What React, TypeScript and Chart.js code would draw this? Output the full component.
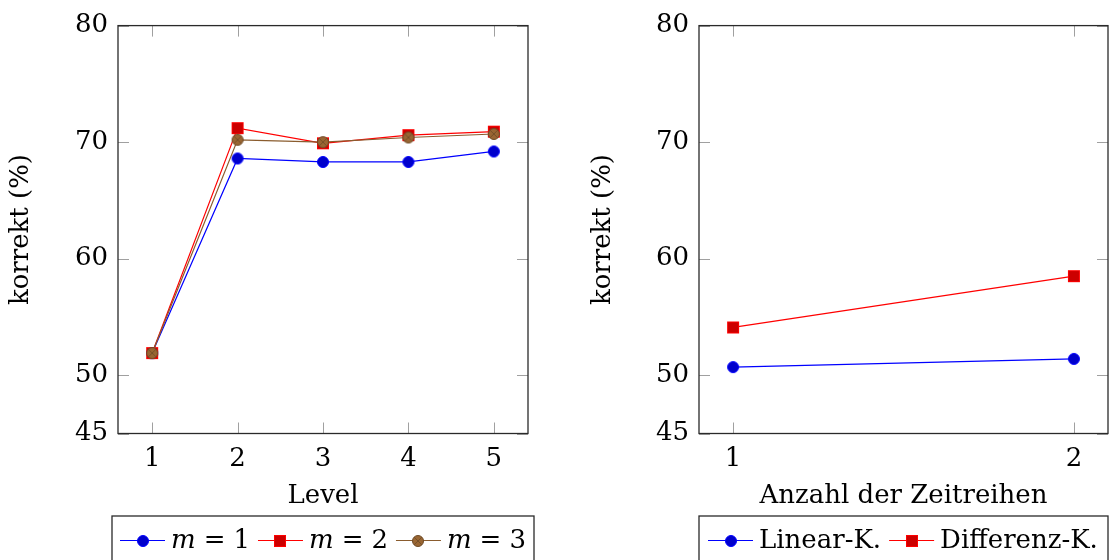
import { useEffect, useRef } from "react";
import { Chart, registerables } from "chart.js";

Chart.register(...registerables);

// Left panel: accuracy per level for three values of m
const levels = [1, 2, 3, 4, 5];
const m1Values = [51.9, 68.6, 68.3, 68.3, 69.2];
const m2Values = [51.9, 71.2, 69.9, 70.6, 70.9];
const m3Values = [51.9, 70.2, 70.0, 70.4, 70.7];

// Right panel: accuracy per number of time series
const seriesCounts = [1, 2];
const linearValues = [50.7, 51.4];
const differenzValues = [54.1, 58.5];

const yTickValues = [45, 50, 60, 70, 80];
const levelTicks = [1, 2, 3, 4, 5];
const countTicks = [1, 2];

const FONT = "DejaVu Serif";
const FONT_SIZE = 26;
const TICK_LEN = 11;

// ---- marker images (circle, square, circled cross) ----
function makeMarker(draw: (c: CanvasRenderingContext2D) => void): HTMLCanvasElement {
  const cv = document.createElement("canvas");
  cv.width = 14;
  cv.height = 14;
  const c = cv.getContext("2d")!;
  draw(c);
  return cv;
}

const blueDot = makeMarker((c) => {
  c.beginPath();
  c.arc(7, 7, 5.5, 0, Math.PI * 2);
  c.fillStyle = "#0000cc";
  c.fill();
  c.strokeStyle = "#0000ff";
  c.lineWidth = 1;
  c.stroke();
});

const redSquare = makeMarker((c) => {
  c.fillStyle = "#cc0000";
  c.fillRect(1.5, 1.5, 11, 11);
  c.strokeStyle = "#ff0000";
  c.lineWidth = 1;
  c.strokeRect(1.5, 1.5, 11, 11);
});

const brownOtimes = makeMarker((c) => {
  c.beginPath();
  c.arc(7, 7, 5.5, 0, Math.PI * 2);
  c.fillStyle = "#996633";
  c.fill();
  c.strokeStyle = "#6e4a26";
  c.lineWidth = 1;
  c.stroke();
  const d = 5.5 * Math.SQRT1_2;
  c.beginPath();
  c.moveTo(7 - d, 7 - d);
  c.lineTo(7 + d, 7 + d);
  c.moveTo(7 + d, 7 - d);
  c.lineTo(7 - d, 7 + d);
  c.lineWidth = 0.8;
  c.stroke();
});

// ---- plugins ----
const framePlugin = {
  id: "frame",
  beforeDatasetsDraw(chart: any, _args: any, opts: any) {
    const { ctx, chartArea, scales } = chart;
    const { left, right, top, bottom } = chartArea;
    ctx.save();
    ctx.strokeStyle = "#a0a0a0";
    ctx.lineWidth = 1;
    ctx.beginPath();
    for (const v of opts.yTicks as number[]) {
      const py = Math.round(scales.y.getPixelForValue(v)) + 0.5;
      ctx.moveTo(left, py);
      ctx.lineTo(left + TICK_LEN, py);
      ctx.moveTo(right - TICK_LEN, py);
      ctx.lineTo(right, py);
    }
    for (const v of opts.xTicks as number[]) {
      const px = Math.round(scales.x.getPixelForValue(v)) + 0.5;
      ctx.moveTo(px, bottom);
      ctx.lineTo(px, bottom - TICK_LEN);
      ctx.moveTo(px, top);
      ctx.lineTo(px, top + TICK_LEN);
    }
    ctx.stroke();
    ctx.strokeStyle = "#2a2a2a";
    ctx.lineWidth = 1.3;
    ctx.strokeRect(left, top, right - left, bottom - top);
    ctx.restore();
  },
};

type Part = { text: string; italic?: boolean; gapAfter?: number };
type LegendItem = { color: string; marker: HTMLCanvasElement; parts: Part[] };

const boxLegendPlugin = {
  id: "boxLegend",
  afterDraw(chart: any, _args: any, opts: any) {
    const { ctx } = chart;
    const { boxLeft, boxRight, boxTop, startX, markerY, textY } = opts;
    const items: LegendItem[] = opts.items;
    ctx.save();
    ctx.strokeStyle = "#2a2a2a";
    ctx.lineWidth = 1.3;
    ctx.strokeRect(boxLeft, boxTop, boxRight - boxLeft, 120);
    let x = startX;
    for (const it of items) {
      ctx.strokeStyle = it.color;
      ctx.lineWidth = 1.2;
      ctx.beginPath();
      ctx.moveTo(x, markerY + 0.5);
      ctx.lineTo(x + 45, markerY + 0.5);
      ctx.stroke();
      ctx.drawImage(it.marker, Math.round(x + 22.5 - 7), Math.round(markerY - 7 + 0.5));
      x += 45 + 6;
      ctx.fillStyle = "#000";
      ctx.textBaseline = "alphabetic";
      ctx.textAlign = "left";
      for (const p of it.parts) {
        ctx.font = `${p.italic ? "italic " : ""}${FONT_SIZE}px "${FONT}"`;
        ctx.fillText(p.text, x, textY);
        x += ctx.measureText(p.text).width + (p.gapAfter ?? 0);
      }
      x += 8;
    }
    ctx.restore();
  },
};

function baseOptions(opts: {
  xMin: number;
  xMax: number;
  xTicks: number[];
  xTitle: string;
  yAxisWidth: number;
  padLeft: number;
  padRight: number;
  legend: any;
}) {
  const font = { family: FONT, size: FONT_SIZE };
  const grid = { display: false, drawTicks: false, tickLength: 0 };
  return {
    responsive: false,
    animation: false as const,
    layout: { padding: { left: opts.padLeft, right: opts.padRight, top: 24, bottom: 46 } },
    plugins: {
      legend: { display: false },
      tooltip: { enabled: false },
      frame: { xTicks: opts.xTicks, yTicks: yTickValues },
      boxLegend: opts.legend,
    },
    scales: {
      x: {
        type: "linear" as const,
        min: opts.xMin,
        max: opts.xMax,
        grid,
        border: { display: false },
        afterBuildTicks: (s: any) => {
          s.ticks = opts.xTicks.map((v) => ({ value: v }));
        },
        afterFit: (s: any) => {
          s.height = 80.5;
        },
        ticks: { color: "#000", font, padding: 10, maxRotation: 0 },
        title: { display: true, text: opts.xTitle, color: "#000", font, padding: { top: 0, bottom: 2 } },
      },
      y: {
        type: "linear" as const,
        min: 45,
        max: 80,
        grid,
        border: { display: false },
        afterBuildTicks: (s: any) => {
          s.ticks = yTickValues.map((v) => ({ value: v }));
        },
        afterFit: (s: any) => {
          s.width = opts.yAxisWidth;
        },
        ticks: { color: "#000", font, padding: 10 },
        title: { display: true, text: "korrekt (%)", color: "#000", font, padding: { top: 6, bottom: 0 } },
      },
    },
  };
}

function toPoints(xs: number[], ys: number[]) {
  return xs.map((x, i) => ({ x, y: ys[i] }));
}

function lineDataset(label: string, xs: number[], ys: number[], color: string, marker: HTMLCanvasElement, order: number) {
  return {
    label,
    data: toPoints(xs, ys),
    borderColor: color,
    borderWidth: 1.2,
    backgroundColor: color,
    pointStyle: marker,
    pointRadius: 6,
    pointHoverRadius: 6,
    tension: 0,
    order,
  };
}

function LevelChart() {
  const ref = useRef<HTMLCanvasElement>(null);
  useEffect(() => {
    const chart = new Chart(ref.current!, {
      type: "line",
      data: {
        datasets: [
          lineDataset("m = 1", levels, m1Values, "#0000ff", blueDot, 2),
          lineDataset("m = 2", levels, m2Values, "#ff0000", redSquare, 1),
          lineDataset("m = 3", levels, m3Values, "#8a5c2e", brownOtimes, 0),
        ],
      },
      options: baseOptions({
        xMin: 0.6,
        xMax: 5.4,
        xTicks: levelTicks,
        xTitle: "Level",
        yAxisWidth: 118,
        padLeft: 0,
        padRight: 32,
        legend: {
          boxLeft: 112,
          boxRight: 534,
          boxTop: 516,
          startX: 120,
          markerY: 540,
          textY: 548,
          items: [
            { color: "#0000ff", marker: blueDot, parts: [{ text: "m", italic: true, gapAfter: 8 }, { text: "=", gapAfter: 8 }, { text: "1" }] },
            { color: "#ff0000", marker: redSquare, parts: [{ text: "m", italic: true, gapAfter: 8 }, { text: "=", gapAfter: 8 }, { text: "2" }] },
            { color: "#8a5c2e", marker: brownOtimes, parts: [{ text: "m", italic: true, gapAfter: 8 }, { text: "=", gapAfter: 8 }, { text: "3" }] },
          ],
        },
      }) as any,
      plugins: [framePlugin, boxLegendPlugin],
    });
    return () => chart.destroy();
  }, []);
  return <canvas ref={ref} width={560} height={560} style={{ display: "block" }} />;
}

function SeriesChart() {
  const ref = useRef<HTMLCanvasElement>(null);
  useEffect(() => {
    const chart = new Chart(ref.current!, {
      type: "line",
      data: {
        datasets: [
          lineDataset("Linear-K.", seriesCounts, linearValues, "#0000ff", blueDot, 1),
          lineDataset("Differenz-K.", seriesCounts, differenzValues, "#ff0000", redSquare, 0),
        ],
      },
      options: baseOptions({
        xMin: 0.9,
        xMax: 2.1,
        xTicks: countTicks,
        xTitle: "Anzahl der Zeitreihen",
        yAxisWidth: 117,
        padLeft: 22,
        padRight: 12,
        legend: {
          boxLeft: 139,
          boxRight: 548,
          boxTop: 516,
          startX: 148,
          markerY: 540,
          textY: 548,
          items: [
            { color: "#0000ff", marker: blueDot, parts: [{ text: "Linear-K." }] },
            { color: "#ff0000", marker: redSquare, parts: [{ text: "Differenz-K." }] },
          ],
        },
      }) as any,
      plugins: [framePlugin, boxLegendPlugin],
    });
    return () => chart.destroy();
  }, []);
  return <canvas ref={ref} width={560} height={560} style={{ display: "block" }} />;
}

export default function App() {
  return (
    <div
      style={{
        position: "fixed",
        left: 0,
        top: 0,
        width: 1120,
        height: 560,
        display: "flex",
        background: "#fff",
        overflow: "hidden",
      }}
    >
      <LevelChart />
      <SeriesChart />
    </div>
  );
}
